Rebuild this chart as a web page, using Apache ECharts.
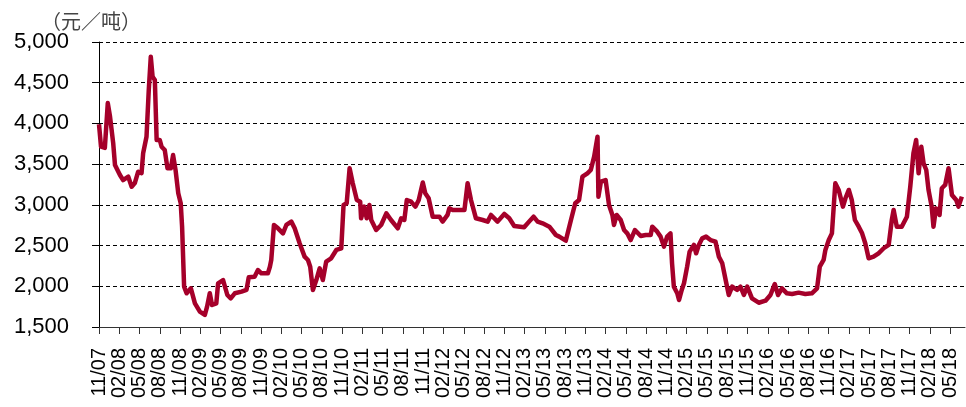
<!DOCTYPE html>
<html>
<head>
<meta charset="utf-8">
<script src="https://cdn.jsdelivr.net/npm/echarts@6/dist/echarts.min.js"></script>
<style>
html,body{margin:0;padding:0;background:#fff;}
#chart{width:966px;height:407px;}
</style>
</head>
<body>
<div id="chart"></div>
<script>
const unitLabel = '（元／吨）';
const tickLabels = ['11/07',
  '02/08','05/08','08/08','11/08','02/09','05/09','08/09','11/09',
  '02/10','05/10','08/10','11/10','02/11','05/11','08/11','11/11',
  '02/12','05/12','08/12','11/12','02/13','05/13','08/13','11/13',
  '02/14','05/14','08/14','11/14','02/15','05/15','08/15','11/15',
  '02/16','05/16','08/16','11/16','02/17','05/17','08/17','11/17',
  '02/18','05/18'];
const yTicks = [1500, 2000, 2500, 3000, 3500, 4000, 4500, 5000];

const dates = [
 '2007-11-01','2007-11-05','2007-11-10','2007-11-27','2007-12-10','2007-12-20','2008-01-04','2008-01-12','2008-02-04','2008-02-18',
 '2008-03-11','2008-03-26','2008-04-10','2008-04-25','2008-05-10','2008-05-17','2008-06-02','2008-06-12','2008-06-21','2008-06-29',
 '2008-07-09','2008-07-17','2008-08-01','2008-08-09','2008-08-23','2008-09-05','2008-09-20','2008-09-30','2008-10-11','2008-10-23',
 '2008-11-04','2008-11-10','2008-11-19','2008-11-30','2008-12-19','2009-01-07','2009-01-29','2009-02-21','2009-03-01','2009-03-13',
 '2009-03-23','2009-04-12','2009-04-20','2009-05-12','2009-06-01','2009-06-16','2009-07-04','2009-08-04','2009-08-26','2009-09-06',
 '2009-10-02','2009-10-17','2009-11-02','2009-12-01','2009-12-10','2009-12-16','2009-12-28','2010-01-16','2010-02-08','2010-02-23',
 '2010-03-15','2010-03-30','2010-04-22','2010-05-14','2010-05-29','2010-06-09','2010-06-21','2010-07-06','2010-07-21','2010-08-05',
 '2010-08-20','2010-09-12','2010-10-05','2010-10-27','2010-11-07','2010-11-21','2010-12-04','2010-12-18','2011-01-06','2011-01-21',
 '2011-01-25','2011-02-09','2011-02-20','2011-03-02','2011-03-10','2011-04-02','2011-04-24','2011-05-17','2011-06-08','2011-07-08',
 '2011-07-23','2011-08-07','2011-08-18','2011-09-07','2011-09-26','2011-10-11','2011-10-29','2011-11-10','2011-11-25','2011-12-13',
 '2012-01-13','2012-01-27','2012-02-19','2012-02-27','2012-03-12','2012-04-04','2012-05-04','2012-05-18','2012-06-03','2012-06-25',
 '2012-07-25','2012-08-17','2012-09-02','2012-10-01','2012-11-01','2012-11-23','2012-12-15','2013-01-29','2013-02-21','2013-03-11',
 '2013-03-29','2013-04-21','2013-05-21','2013-06-20','2013-07-05','2013-08-04','2013-08-27','2013-09-16','2013-10-03','2013-10-18',
 '2013-11-10','2013-11-25','2013-12-10','2013-12-25','2013-12-29','2014-01-10','2014-02-01','2014-02-16','2014-03-01','2014-03-08',
 '2014-03-20','2014-04-08','2014-04-23','2014-05-07','2014-05-22','2014-06-11','2014-07-07','2014-07-29','2014-08-21','2014-08-28',
 '2014-09-20','2014-10-05','2014-10-20','2014-11-04','2014-11-19','2014-11-26','2014-12-04','2014-12-19','2014-12-27','2015-01-09',
 '2015-01-19','2015-02-03','2015-02-14','2015-03-03','2015-03-13','2015-03-25','2015-04-10','2015-04-27','2015-05-17','2015-06-09',
 '2015-06-24','2015-07-09','2015-07-24','2015-08-08','2015-08-23','2015-09-15','2015-09-30','2015-10-15','2015-10-30','2015-11-21',
 '2015-12-21','2016-01-21','2016-02-13','2016-03-02','2016-03-17','2016-04-04','2016-04-26','2016-05-19','2016-06-18','2016-07-18',
 '2016-08-17','2016-09-10','2016-09-22','2016-10-09','2016-10-17','2016-11-02','2016-11-16','2016-11-24','2016-12-01','2016-12-16',
 '2017-01-05','2017-01-16','2017-01-31','2017-02-14','2017-02-28','2017-03-15','2017-03-30','2017-04-14','2017-04-29','2017-05-21',
 '2017-06-13','2017-07-06','2017-07-28','2017-08-12','2017-08-20','2017-09-04','2017-09-26','2017-10-19','2017-11-04','2017-11-18',
 '2017-11-30','2017-12-11','2017-12-23','2018-01-03','2018-01-15','2018-01-25','2018-02-09','2018-02-17','2018-02-28','2018-03-14',
 '2018-03-24','2018-04-09','2018-04-24','2018-05-09','2018-05-28','2018-06-08','2018-06-23'
];
const prices = [
 3990,3980,3714,3700,4250,4083,3760,3490,3367,3305,
 3346,3223,3268,3407,3390,3633,3837,4410,4820,4574,
 4533,3797,3797,3714,3674,3449,3449,3612,3428,3142,
 3019,2732,1995,1914,1975,1791,1688,1648,1750,1914,
 1770,1791,2037,2077,1893,1852,1914,1934,1955,2110,
 2118,2200,2159,2159,2240,2323,2753,2712,2650,2753,
 2794,2712,2528,2364,2323,2241,1955,2077,2221,2077,
 2303,2344,2446,2467,2998,3019,3449,3265,3060,3039,
 2835,2978,2835,2998,2814,2691,2753,2896,2814,2712,
 2835,2814,3060,3039,2978,3060,3274,3142,3081,2855,
 2855,2794,2876,2957,2937,2937,2937,3265,3060,2835,
 2814,2794,2876,2794,2888,2835,2740,2724,2794,2855,
 2794,2773,2732,2630,2610,2560,2814,3019,3060,3346,
 3387,3428,3592,3837,3101,3285,3305,2998,2876,2753,
 2876,2814,2691,2650,2568,2691,2617,2630,2630,2732,
 2671,2610,2487,2610,2650,2282,1995,1914,1832,1955,
 2037,2241,2426,2508,2405,2508,2589,2610,2568,2548,
 2364,2282,2077,1893,1995,1955,1995,1893,1995,1852,
 1798,1823,1893,2028,1893,1975,1914,1906,1922,1906,
 1914,1975,2241,2323,2446,2568,2650,2978,3265,3183,
 2978,3081,3183,3060,2814,2732,2650,2528,2344,2364,
 2405,2467,2508,2814,2937,2732,2732,2855,3224,3633,
 3797,3387,3714,3510,3428,3183,2978,2732,2957,2876,
 3204,3244,3449,3122,3060,2978,3101
];

function monthIndex(s) {
  const p = s.split('-').map(Number);
  return (p[0] - 2007) * 12 + (p[1] - 11) + (p[2] - 1) / 30;
}
const seriesData = dates.map((d, i) => [monthIndex(d), prices[i]]);
const tickPositions = tickLabels.map((_, i) => i * 3);

// layout of the plot
const W = 966, gridLeft = 99, gridRight = 1, xMax = 128.2;
const pxPerMonth = (W - gridLeft - gridRight) / xMax;
const labelGridRight = W - (gridLeft + tickPositions[tickPositions.length - 1] * pxPerMonth);

const chart = echarts.init(document.getElementById('chart'));
chart.setOption({
  animation: false,
  backgroundColor: '#ffffff',
  grid: [
    { left: gridLeft, right: gridRight, top: 42, bottom: 80 },
    { left: gridLeft, right: labelGridRight, top: 42, bottom: 80 }
  ],
  graphic: [{
    type: 'text', left: 41, top: 11,
    style: { text: unitLabel, font: '20px "Noto Sans CJK SC"', fill: '#444444' }
  }],
  xAxis: [{
    type: 'value',
    gridIndex: 0,
    min: 0,
    max: xMax,
    axisLine: { show: true, lineStyle: { color: '#333333', width: 1 } },
    axisTick: { show: true, customValues: tickPositions, length: 7, lineStyle: { color: '#333333' } },
    axisLabel: { show: false },
    splitLine: { show: false }
  }, {
    type: 'category',
    gridIndex: 1,
    data: tickLabels,
    boundaryGap: false,
    axisLine: { show: false },
    axisTick: { show: false },
    splitLine: { show: false },
    axisLabel: {
      interval: 0,
      rotate: 90,
      margin: 21,
      fontSize: 20,
      hideOverlap: false,
      fontFamily: '"Liberation Sans", Arial, sans-serif',
      color: '#000000'
    }
  }],
  yAxis: [{
    type: 'value',
    gridIndex: 0,
    min: yTicks[0],
    max: yTicks[yTicks.length - 1],
    interval: 500,
    axisLine: { show: true, lineStyle: { color: '#000000', width: 1 } },
    axisTick: { show: true, length: 7, lineStyle: { color: '#000000' } },
    axisLabel: {
      margin: 30,
      fontSize: 22,
      fontFamily: '"Liberation Sans", Arial, sans-serif',
      color: '#000000',
      formatter: v => v.toLocaleString('en-US')
    },
    splitLine: { show: true, lineStyle: { color: '#000000', type: [4, 3], width: 1 } }
  }, {
    type: 'value',
    gridIndex: 1,
    show: false,
    min: yTicks[0],
    max: yTicks[yTicks.length - 1],
    splitLine: { show: false }
  }],
  series: [{
    type: 'line',
    xAxisIndex: 0,
    yAxisIndex: 0,
    data: seriesData,
    showSymbol: false,
    symbol: 'none',
    lineStyle: { color: '#A5002A', width: 4.5, join: 'round' },
    z: 5
  }]
});
</script>
</body>
</html>
